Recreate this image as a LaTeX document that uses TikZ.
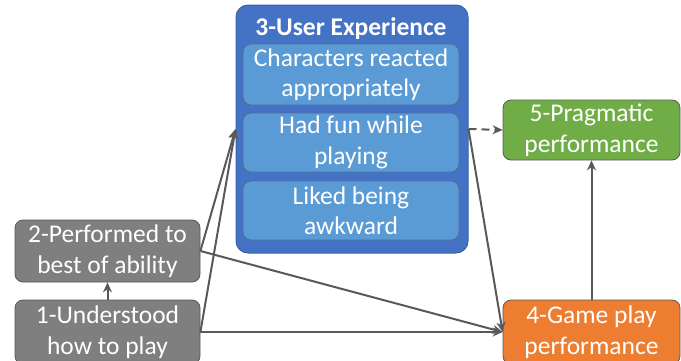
\documentclass[tikz,border=0pt]{standalone}
\usepackage{fontspec}
\setmainfont{Carlito}
\usetikzlibrary{arrows.meta}
\definecolor{outerblue}{HTML}{4472C4}
\definecolor{outerborder}{HTML}{3A62A8}
\definecolor{innerblue}{HTML}{5B9BD5}
\definecolor{innerborder}{HTML}{4A6F95}
\definecolor{boxgray}{HTML}{7F7F7F}
\definecolor{boxgreen}{HTML}{70AD47}
\definecolor{boxorange}{HTML}{ED7D31}
\definecolor{edgegray}{HTML}{595959}
\tikzset{
  box/.style={draw=edgegray, line width=0.8pt, rounded corners=8pt, text=white,
    align=center, inner sep=0pt, font=\fontsize{25.5}{30.5}\selectfont},
  innerbox/.style={box, fill=innerblue, draw=innerborder, minimum width=216pt},
  conn/.style={draw=edgegray, line width=2pt, -{Stealth[length=10pt,width=9pt]}},
}
\begin{document}
\begin{tikzpicture}[x=1pt,y=-1pt]
\useasboundingbox (0,0) rectangle (681,360);
% group 3
\node[box, fill=outerblue, draw=outerborder, line width=1pt, rounded corners=12pt,
  minimum width=232pt, minimum height=248pt] (b3) at (352,129) {};
\node[text=white, inner sep=0pt, font=\fontsize{25.5}{29}\selectfont\bfseries] (t3) at (351,29) {3-User Experience};
\node[innerbox, minimum height=61pt] (i1) at (351,74.5) {Characters reacted\\appropriately};
\node[innerbox, minimum height=59pt] (i2) at (351,142.5) {Had fun while\\playing};
\node[innerbox, minimum height=59pt] (i3) at (351,210.5) {Liked being\\awkward};
% other boxes
\node[box, fill=boxgray, minimum width=185pt, minimum height=62pt] (b2) at (107.5,251) {2-Performed to\\best of ability};
\node[box, fill=boxgray, minimum width=185pt, minimum height=64pt] (b1) at (107.5,332) {1-Understood\\how to play};
\node[box, fill=boxgreen, minimum width=177pt, minimum height=60pt] (b5) at (591.5,130) {5-Pragmatic\\performance};
\node[box, fill=boxorange, minimum width=177pt, minimum height=64pt] (b4) at (591.5,332) {4-Game play\\performance};
% connectors
\draw[conn] (b1.north) -- (b2.south);
\draw[conn] (b1.east) -- (b3.west);
\draw[conn] (b2.east) -- (b3.west);
\draw[conn] (b2.east) -- (b4.west);
\draw[conn] (b1.east) -- (b4.west);
\draw[conn] (b3.east) -- (b4.west);
\draw[conn, dashed, dash pattern=on 8pt off 5pt] (b3.east) -- (b5.west);
\draw[conn] (b4.north) -- (b5.south);
\end{tikzpicture}
\end{document}
